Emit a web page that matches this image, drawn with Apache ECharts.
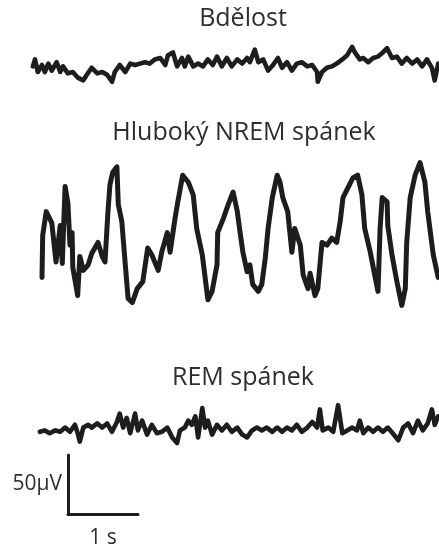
<!DOCTYPE html>
<html>
<head>
<meta charset="utf-8">
<script src="https://cdn.jsdelivr.net/npm/echarts@6/dist/echarts.min.js"></script>
<style>
  html, body { margin: 0; padding: 0; background: #fff; }
  #chart { width: 439px; height: 550px; }
</style>
</head>
<body>
<div id="chart"></div>
<script>
// EEG stopy, cas v s, napeti v µV
const titles = ['Bdělost', 'Hluboký NREM spánek', 'REM spánek'];

const wakeT = [0.47, 0.50, 0.54, 0.60, 0.64, 0.69, 0.74, 0.81, 0.86, 0.90, 0.97, 1.04, 1.11, 1.19, 1.24, 1.31, 1.39, 1.46, 1.53, 1.60,
  1.64, 1.71, 1.79, 1.86, 1.93, 2.00, 2.07, 2.14, 2.21, 2.29, 2.36, 2.40, 2.47, 2.53, 2.60, 2.64, 2.69, 2.76, 2.83, 2.90,
  2.97, 3.04, 3.10, 3.17, 3.24, 3.31, 3.39, 3.46, 3.53, 3.57, 3.64, 3.69, 3.76, 3.83, 3.90, 3.97, 4.03, 4.10, 4.17, 4.24,
  4.31, 4.39, 4.46, 4.53, 4.54, 4.60, 4.67, 4.74, 4.81, 4.89, 4.96, 5.03, 5.07, 5.14, 5.19, 5.26, 5.33, 5.40, 5.47, 5.53,
  5.60, 5.67, 5.74, 5.81, 5.89, 5.96, 6.03, 6.10, 6.17, 6.21, 6.26];
const wakeV = [-1, 4, -5, 0, -5, 1, -4, 2, -5, -1, -6, -5, -9, -11, -7, -2, -6, -5, -7, -12,
  -5, 0, -5, 1, 0, 1, 2, 1, 4, 5, 0, 7, 9, -1, 5, -1, 6, -1, 1, -1,
  4, 0, 6, -1, 5, -1, 4, 1, 5, 2, 11, 2, 4, -4, 0, 5, -2, 2, -4, 1,
  2, -1, 0, -5, -12, -5, -2, -1, 1, 4, 7, 13, 9, 4, 5, 2, 5, 6, 9, 12,
  5, 6, 1, 5, 1, 4, -1, 4, -2, -11, 1];

const nremT = [0.60, 0.61, 0.66, 0.74, 0.80, 0.86, 0.89, 0.93, 0.97, 1.00, 1.03, 1.04, 1.11, 1.14, 1.19, 1.26, 1.31, 1.40, 1.46, 1.50,
  1.54, 1.57, 1.61, 1.67, 1.69, 1.74, 1.79, 1.83, 1.89, 1.96, 2.04, 2.11, 2.17, 2.26, 2.31, 2.39, 2.43, 2.50, 2.54, 2.61,
  2.69, 2.76, 2.81, 2.89, 2.93, 2.97, 3.03, 3.10, 3.11, 3.19, 3.26, 3.33, 3.39, 3.43, 3.47, 3.53, 3.57, 3.61, 3.69, 3.74,
  3.79, 3.83, 3.89, 3.96, 4.00, 4.04, 4.11, 4.17, 4.21, 4.29, 4.33, 4.40, 4.43, 4.50, 4.54, 4.60, 4.67, 4.74, 4.81, 4.86,
  4.90, 4.97, 5.04, 5.11, 5.17, 5.21, 5.29, 5.36, 5.40, 5.43, 5.46, 5.53, 5.54, 5.60, 5.67, 5.74, 5.79, 5.81, 5.86, 5.93,
  6.00, 6.07, 6.11, 6.19, 6.26];
const nremV = [-31, -1, 16, 8, -20, 6, -21, 34, 22, -8, 1, -24, -44, -16, -26, -22, -14, -6, -16, -20,
  14, 35, 44, 48, 21, 9, -22, -46, -49, -39, -34, -10, -15, -26, -13, 1, -13, 11, 23, 42,
  37, 28, 4, -15, -31, -47, -41, -22, 1, 11, 21, 30, 16, 1, -13, -27, -22, -36, -41, -36,
  -17, 4, 26, 42, 37, 26, 16, -13, 4, -8, -29, -39, -28, -44, -39, -6, -8, -3, -6, 9,
  26, 33, 40, 42, 28, 4, -13, -31, -41, 4, 26, 23, 6, -15, -34, -51, -39, -6, 26, 42,
  51, 37, 16, -15, -31];

const remT = [0.57, 0.64, 0.71, 0.79, 0.86, 0.93, 1.00, 1.07, 1.11, 1.14, 1.19, 1.26, 1.31, 1.39, 1.46, 1.53, 1.60, 1.67, 1.71, 1.76,
  1.81, 1.86, 1.93, 1.97, 2.03, 2.10, 2.17, 2.24, 2.31, 2.39, 2.46, 2.53, 2.57, 2.64, 2.69, 2.74, 2.79, 2.83, 2.89, 2.93,
  2.97, 3.03, 3.10, 3.17, 3.24, 3.31, 3.39, 3.46, 3.53, 3.60, 3.67, 3.74, 3.81, 3.89, 3.96, 4.03, 4.10, 4.17, 4.24, 4.31,
  4.39, 4.46, 4.53, 4.57, 4.61, 4.69, 4.76, 4.83, 4.89, 4.96, 5.03, 5.10, 5.14, 5.19, 5.26, 5.33, 5.40, 5.47, 5.54, 5.61,
  5.69, 5.76, 5.83, 5.90, 5.97, 6.04, 6.11, 6.17, 6.21, 6.26];
const remV = [-2, -1, -3, -1, -2, 1, -2, 3, -3, -9, 1, 3, 1, 4, 1, 4, -2, 5, 11, 1,
  8, -3, 11, -1, 6, -4, 3, -3, -2, 1, -6, -10, -1, 1, 6, 3, 9, -6, 15, 1,
  6, -4, 3, -1, 3, -2, 1, -4, -6, -1, 1, -1, 1, -2, 1, -2, 1, -1, 3, -2,
  1, 5, 1, 14, -1, 1, -2, 17, -3, -1, 1, -1, 6, -3, 1, -2, 1, -2, 1, -3,
  -8, 1, 4, -3, 6, -1, 4, 14, 3, 9];

// meritko: 1 s a 50 µV
const scaleSec = 1;
const scaleUV = 50;

const ink = '#1e1c1d';
const font = '"Open Sans", "Noto Sans", sans-serif';

function pairs(t, v) {
  return t.map((x, i) => [x, v[i]]);
}

const chart = echarts.init(document.getElementById('chart'));

const widths = [4.6, 5, 4.6];

chart.setOption({
  animation: false,
  title: [
    { text: titles[0], left: 243, top: 6 },
    { text: titles[1], left: 244, top: 120 },
    { text: titles[2], left: 243, top: 365 }
  ].map(t => Object.assign(t, {
    textAlign: 'center', padding: 0,
    textStyle: { fontFamily: font, fontSize: 25, fontWeight: 'normal', color: '#2e2e2e' }
  })),
  grid: [
    { left: 0, width: 439, top: 23, height: 84 },
    { left: 0, width: 439, top: 150, height: 168 },
    { left: 0, width: 439, top: 387, height: 84 },
    { left: 68, width: 70, top: 455, height: 70 }
  ],
  xAxis: [0, 1, 2].map(i => ({
    type: 'value', gridIndex: i, min: 0, max: 439 / 70, show: false
  })).concat([{
    type: 'value', gridIndex: 3, min: 0, max: scaleSec,
    axisLine: { show: true, lineStyle: { color: ink, width: 3 } },
    axisTick: { show: false }, axisLabel: { show: false }, splitLine: { show: false },
    name: scaleSec + ' s', nameLocation: 'middle', nameGap: 14,
    nameTextStyle: { fontFamily: font, fontSize: 21, color: '#2e2e2e' }
  }]),
  yAxis: [
    { type: 'value', gridIndex: 0, min: -30, max: 30, show: false },
    { type: 'value', gridIndex: 1, min: -60, max: 60, show: false },
    { type: 'value', gridIndex: 2, min: -30, max: 30, show: false },
    {
      type: 'value', gridIndex: 3, min: 0, max: scaleUV,
      axisLine: { show: true, lineStyle: { color: ink, width: 3 } },
      axisTick: { show: false }, axisLabel: { show: false }, splitLine: { show: false },
      name: scaleUV + 'µV', nameLocation: 'middle', nameRotate: 0, nameGap: 6,
      nameTextStyle: { fontFamily: font, fontSize: 21, color: '#2e2e2e', align: 'right' }
    }
  ],
  series: [
    [wakeT, wakeV], [nremT, nremV], [remT, remV]
  ].map((d, i) => ({
    type: 'line', xAxisIndex: i, yAxisIndex: i,
    data: pairs(d[0], d[1]),
    showSymbol: false, silent: true,
    lineStyle: { color: ink, width: widths[i], join: 'round', cap: 'round' }
  }))
});
</script>
</body>
</html>
